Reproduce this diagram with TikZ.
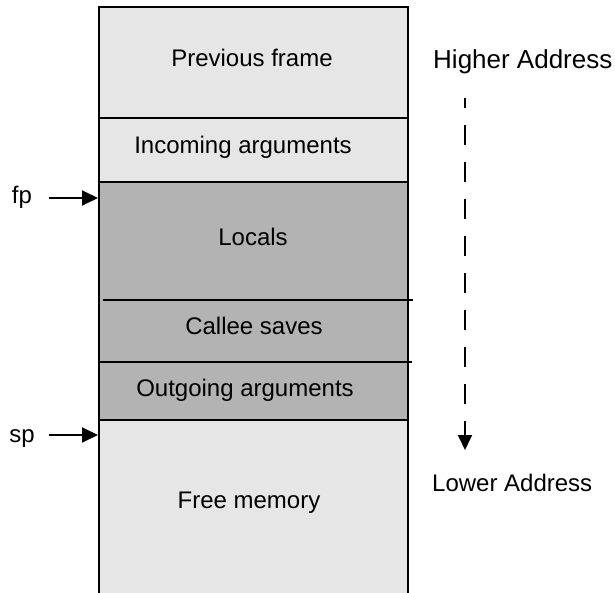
\documentclass[tikz,border=0pt]{standalone}
\usepackage{fontspec}
\setmainfont{Liberation Sans}
\usetikzlibrary{arrows.meta}
\definecolor{lightfill}{HTML}{E6E6E6}
\definecolor{darkfill}{HTML}{B3B3B3}
\tikzset{
  edge/.style={line width=1.9pt, draw=black},
  lbl/.style={font=\fontsize{24}{27}\selectfont, inner sep=0pt, anchor=base},
  ptr/.style={line width=1.9pt, -{Triangle[length=16pt,width=15pt]}},
}
\begin{document}
\begin{tikzpicture}[x=1pt,y=-1pt]
\useasboundingbox (0,0) rectangle (615,593);
% fills
\fill[lightfill] (99,7) rectangle (408,182);
\fill[darkfill] (99,182) rectangle (408,420);
\fill[lightfill] (99,420) rectangle (408,593);
% borders
\draw[edge] (99,593) -- (99,7) -- (408,7) -- (408,593);
\draw[edge] (99,118) -- (408,118);
\draw[edge] (99,182) -- (408,182);
\draw[edge] (103,300) -- (413,300);
\draw[edge] (99,362) -- (412,362);
\draw[edge] (99,420) -- (408,420);
% labels
\node[lbl] (prev) at (252,67) {Previous frame};
\node[lbl] (inc) at (243,154) {Incoming arguments};
\node[lbl] (loc) at (253,246) {Locals};
\node[lbl] (cal) at (254,334) {Callee saves};
\node[lbl] (out) at (245,396) {Outgoing arguments};
\node[lbl] (free) at (249,508) {Free memory};
\node[lbl] (fp) at (22,204) {fp};
\node[lbl] (sp) at (22,442) {sp};
\node[lbl, anchor=base west, font=\fontsize{26}{29}\selectfont] (hi) at (433,69) {Higher Address};
\node[lbl, anchor=base west] (lo) at (432,491) {Lower Address};
% pointers
\coordinate (fpa) at (49,198);
\coordinate (fpb) at (98,198);
\coordinate (spa) at (49,435);
\coordinate (spb) at (98,435);
\draw[ptr] (fpa) -- (fpb);
\draw[ptr] (spa) -- (spb);
% direction arrow
\coordinate (da) at (465,98);
\coordinate (db) at (465,450);
\draw[line width=1.9pt, dash pattern=on 20pt off 17pt, dash phase=10pt, -{Triangle[length=15pt,width=14pt]}] (da) -- (db);
\end{tikzpicture}
\end{document}
